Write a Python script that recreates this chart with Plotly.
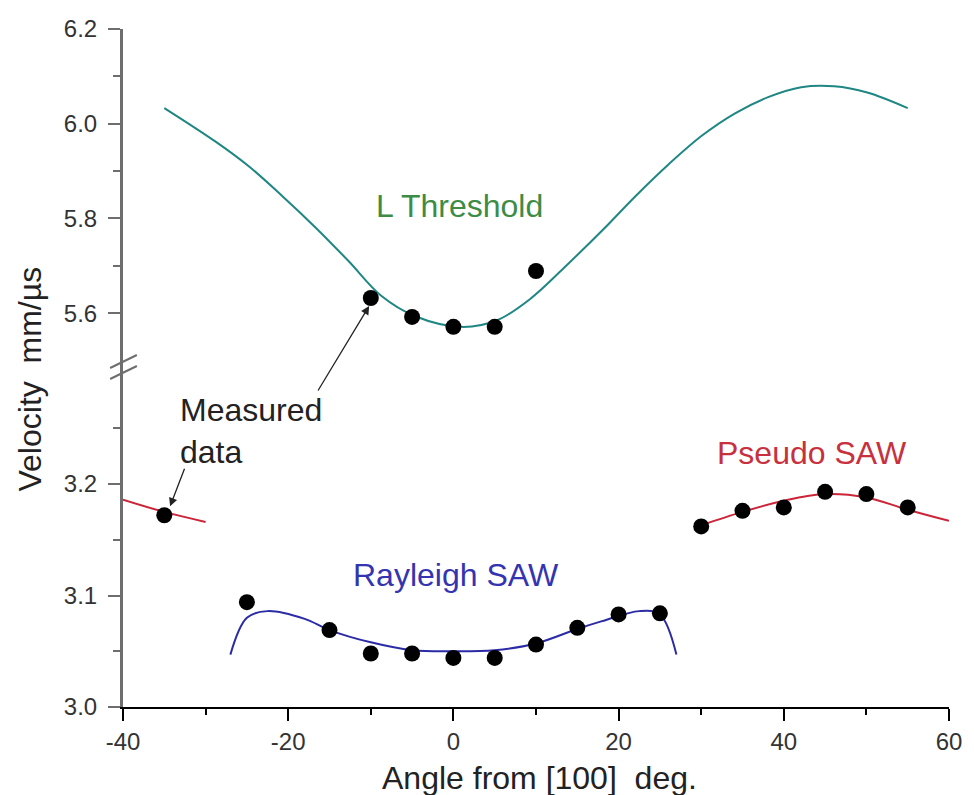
import plotly.graph_objects as go

# ---- data (angle in degrees from [100], velocity in mm/us) ----
# L threshold: calculated curve and measured points (upper panel)
l_curve_angle = [-35, -28.7, -24.7, -20.7, -16.7, -12.7, -8.7, -4.7, 1.0, 5.3, 9.3, 14.0,
                 18.1, 22.1, 26.1, 30.1, 34.1, 38.1, 42.1, 46.1, 50.1, 55]
l_curve_vel = [6.033, 5.961, 5.909, 5.847, 5.781, 5.710, 5.636, 5.594, 5.571, 5.585, 5.630, 5.706,
               5.776, 5.848, 5.915, 5.975, 6.022, 6.056, 6.077, 6.079, 6.066, 6.033]
l_meas_angle = [-10, -5, 0, 5, 10]
l_meas_vel = [5.632, 5.592, 5.571, 5.571, 5.689]

# Pseudo SAW: calculated branches and measured points
psaw_left_angle = [-40, -35, -30]
psaw_left_vel = [3.186, 3.175, 3.166]
psaw_right_angle = [30, 35, 40, 45, 50, 55, 60]
psaw_right_vel = [3.163, 3.175, 3.185, 3.191, 3.188, 3.177, 3.167]
psaw_meas_angle = [-35, 30, 35, 40, 45, 50, 55]
psaw_meas_vel = [3.172, 3.162, 3.176, 3.179, 3.193, 3.191, 3.179]

# Rayleigh SAW: calculated curve and measured points
r_curve_angle = [-27, -25, -22.5, -18, -15, -10, -5, 0, 5, 10, 15, 18, 22.5, 25, 27]
r_curve_vel = [3.047, 3.080, 3.086, 3.079, 3.069, 3.058, 3.051, 3.050, 3.051, 3.057, 3.070,
               3.077, 3.086, 3.083, 3.047]
r_meas_angle = [-25, -15, -10, -5, 0, 5, 10, 15, 20, 25]
r_meas_vel = [3.094, 3.069, 3.048, 3.048, 3.044, 3.044, 3.056, 3.071, 3.083, 3.084]

x_ticks = [-40, -20, 0, 20, 40, 60]
x_tick_text = ["-40", "-20", "0", "20", "40", "60"]
upper_ticks = [5.6, 5.8, 6.0, 6.2]
upper_tick_text = ["5.6", "5.8", "6.0", "6.2"]
lower_ticks = [3.0, 3.1, 3.2]
lower_tick_text = ["3.0", "3.1", "3.2"]

FONT = "Liberation Sans, Arial, sans-serif"
TEAL = "#1f8783"
RED = "#cc2438"
BLUE = "#2b2ba6"
AXIS_GREY = "#6e6e6e"
TICK_FONT = dict(size=24, color="#333333")
TEXT_SIZE = 32

fig = go.Figure()

fig.add_trace(go.Scatter(x=l_curve_angle, y=l_curve_vel, yaxis="y2", mode="lines",
                         line=dict(color=TEAL, width=2, shape="spline"), cliponaxis=False))
fig.add_trace(go.Scatter(x=l_meas_angle, y=l_meas_vel, yaxis="y2", mode="markers",
                         marker=dict(color="black", size=16), cliponaxis=False))

fig.add_trace(go.Scatter(x=psaw_left_angle, y=psaw_left_vel, mode="lines",
                         line=dict(color=RED, width=2, shape="spline")))
fig.add_trace(go.Scatter(x=psaw_right_angle, y=psaw_right_vel, mode="lines",
                         line=dict(color=RED, width=2, shape="spline")))
fig.add_trace(go.Scatter(x=r_curve_angle, y=r_curve_vel, mode="lines",
                         line=dict(color=BLUE, width=2, shape="spline")))
fig.add_trace(go.Scatter(x=psaw_meas_angle + r_meas_angle, y=psaw_meas_vel + r_meas_vel,
                         mode="markers", marker=dict(color="black", size=16), cliponaxis=False))

split = 0.497  # paper height where the broken axis changes scale

fig.update_layout(
    width=974, height=795,
    margin=dict(l=123, r=18, t=29, b=88),
    paper_bgcolor="white", plot_bgcolor="white",
    showlegend=False,
    font=dict(family=FONT, size=24, color="#333333"),
    xaxis=dict(range=[-40, 60], tickvals=x_ticks, ticktext=x_tick_text,
               showgrid=False, zeroline=False,
               showline=True, linecolor="black", linewidth=1.5, anchor="y",
               ticks="outside", ticklen=12, tickwidth=1.5, tickcolor="black",
               minor=dict(tickvals=[-30, -10, 10, 30, 50], ticks="outside", ticklen=6,
                          tickwidth=1.5, tickcolor="black", showgrid=False),
               tickfont=TICK_FONT),
    yaxis=dict(domain=[0, split], range=[3.0, 3.0 + (707 - 370) / 1115],
               tickvals=lower_ticks, ticktext=lower_tick_text,
               showgrid=False, zeroline=False,
               showline=True, linecolor=AXIS_GREY, linewidth=3,
               ticks="outside", ticklen=12, tickwidth=2, tickcolor=AXIS_GREY,
               ticklabelstandoff=6,
               minor=dict(tickvals=[3.05, 3.15, 3.25], ticks="outside", ticklen=7,
                          tickwidth=2, tickcolor=AXIS_GREY, showgrid=False),
               tickfont=TICK_FONT),
    yaxis2=dict(domain=[split, 1], range=[6.2 - (370 - 29) * 0.2 / 94.7, 6.2],
                tickvals=upper_ticks, ticktext=upper_tick_text,
                showgrid=False, zeroline=False, anchor="x",
                showline=True, linecolor=AXIS_GREY, linewidth=3,
                ticks="outside", ticklen=12, tickwidth=2, tickcolor=AXIS_GREY,
                ticklabelstandoff=6,
                minor=dict(tickvals=[5.7, 5.9, 6.1], ticks="outside", ticklen=7,
                           tickwidth=2, tickcolor=AXIS_GREY, showgrid=False),
                tickfont=TICK_FONT),
)

# axis break marks on the vertical axis
def px_to_paper(px, py):
    return (px - 123) / 833, (707 - py) / 678

for y0 in (368, 379):
    xa, ya = px_to_paper(110, y0)
    xb, yb = px_to_paper(137, y0 - 13)
    fig.add_shape(type="line", xref="paper", yref="paper", x0=xa, y0=ya, x1=xb, y1=yb,
                  line=dict(color=AXIS_GREY, width=2))

# axis titles
fig.add_annotation(text="Velocity  mm/\u00b5s", xref="paper", yref="paper",
                   x=-0.113, y=0.484, xanchor="center", yanchor="middle",
                   textangle=-90, showarrow=False,
                   font=dict(size=TEXT_SIZE, color="#222222"))
fig.add_annotation(text="Angle from [100]  deg.", xref="paper", yref="paper",
                   x=0.504, y=-0.104, xanchor="center", yanchor="middle", showarrow=False,
                   font=dict(size=TEXT_SIZE, color="#222222"))

# curve labels
fig.add_annotation(text="L Threshold", x=0.7, y=5.826, xref="x", yref="y2", showarrow=False,
                   font=dict(size=TEXT_SIZE, color="#3c8c46"))
fig.add_annotation(text="Pseudo SAW", x=43.4, y=3.228, xref="x", yref="y", showarrow=False,
                   font=dict(size=TEXT_SIZE, color="#c8303e"))
fig.add_annotation(text="Rayleigh SAW", x=0.3, y=3.118, xref="x", yref="y", showarrow=False,
                   font=dict(size=TEXT_SIZE, color="#3434b0"))
fig.add_annotation(text="Measured<br>data", x=-33.4, y=3.248, xref="x", yref="y",
                   xanchor="left", align="left", showarrow=False,
                   font=dict(size=TEXT_SIZE, color="#222222"))

# pointer arrows to measured points
fig.add_annotation(text="", x=-10.2, y=5.615, xref="x", yref="y2", ax=-52, ay=86,
                   showarrow=True, arrowhead=2, arrowsize=1.3, arrowwidth=1.3,
                   arrowcolor="#222222")
fig.add_annotation(text="", x=-34.3, y=3.180, xref="x", yref="y", ax=15, ay=-39,
                   showarrow=True, arrowhead=2, arrowsize=1.3, arrowwidth=1.3,
                   arrowcolor="#222222")

fig.write_html("out.html")
